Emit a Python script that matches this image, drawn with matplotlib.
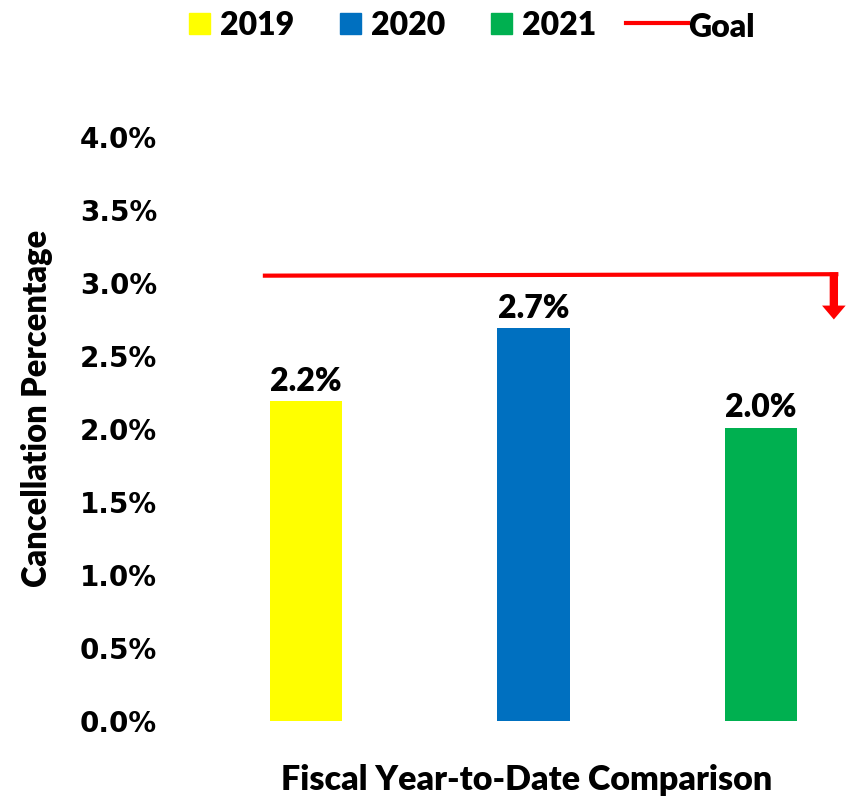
import matplotlib.pyplot as plt
from matplotlib.patches import Rectangle
from matplotlib.lines import Line2D

years = ['2019', '2020', '2021']
rates = [2.19, 2.69, 2.01]
colors = ['#FFFF00', '#0070C0', '#00B050']
yticks = [0.0, 0.5, 1.0, 1.5, 2.0, 2.5, 3.0, 3.5, 4.0]
goal_x = [-0.19, 2.34]
goal_y = [3.05, 3.06]
arrow_x = 2.32
arrow_tip = 2.75

txt = 'Lato'
wt = 'heavy'

fig = plt.figure(figsize=(8.5, 7.99), dpi=100)
ax = fig.add_axes([0.2, 0.0976, 0.8, 0.731])

x = range(len(years))
bars = ax.bar(x, rates, width=0.317, color=colors)

for xi, v in zip(x, rates):
    ax.annotate(f'{v:.1f}%', (xi, v), xytext=(0, 4), textcoords='offset points',
                ha='center', va='bottom', fontsize=23, fontweight=wt, family=txt)

# goal line with arrow pointing down
ax.plot(goal_x, goal_y, color='red', lw=3, solid_capstyle='butt')
ax.annotate('', xy=(arrow_x, arrow_tip), xytext=(arrow_x, goal_y[1] + 0.012),
            arrowprops=dict(arrowstyle='simple,head_width=1.7,head_length=1.0,tail_width=0.6',
                            color='red', mutation_scale=10, shrinkA=0, shrinkB=0, lw=0))

ax.set_xlim(-0.598, 2.391)
ax.set_ylim(0, 4)
ax.set_yticks(yticks)
ax.set_yticklabels([f'{t:.1f}%' for t in yticks])
ax.tick_params(axis='y', length=0, pad=9.4, labelsize=20)
for lab in ax.get_yticklabels():
    lab.set_fontweight('bold')
    lab.set_family('DejaVu Sans')
ax.set_xticks([])
for s in ax.spines.values():
    s.set_visible(False)

fig.text(37 / 850, 1 - 408 / 799, 'Cancellation Percentage', rotation=90,
         ha='center', va='center', fontsize=23.5, fontweight=wt, family=txt)
fig.text(527 / 850, 1 - 780 / 799, 'Fiscal Year-to-Date Comparison',
         ha='center', va='center', fontsize=24.5, fontweight=wt, family=txt)

# legend drawn by hand
W, H = 850, 799
sq_x = [189, 340, 491]
for sx, yr, c in zip(sq_x, years, colors):
    fig.patches.append(Rectangle((sx / W, 1 - 34 / H), 21 / W, 21 / H,
                                 color=c, transform=fig.transFigure))
    fig.text((sx + 31) / W, 1 - 35 / H, yr, ha='left', va='baseline',
             fontsize=23, fontweight=wt, family=txt)
fig.lines.append(Line2D([626 / W, 688 / W], [1 - 23 / H, 1 - 23 / H], color='red',
                        lw=3, transform=fig.transFigure))
fig.text(688 / W, 1 - 37 / H, 'Goal', ha='left', va='baseline',
         fontsize=23, fontweight=wt, family=txt)

fig.savefig('out.png', dpi=100)
